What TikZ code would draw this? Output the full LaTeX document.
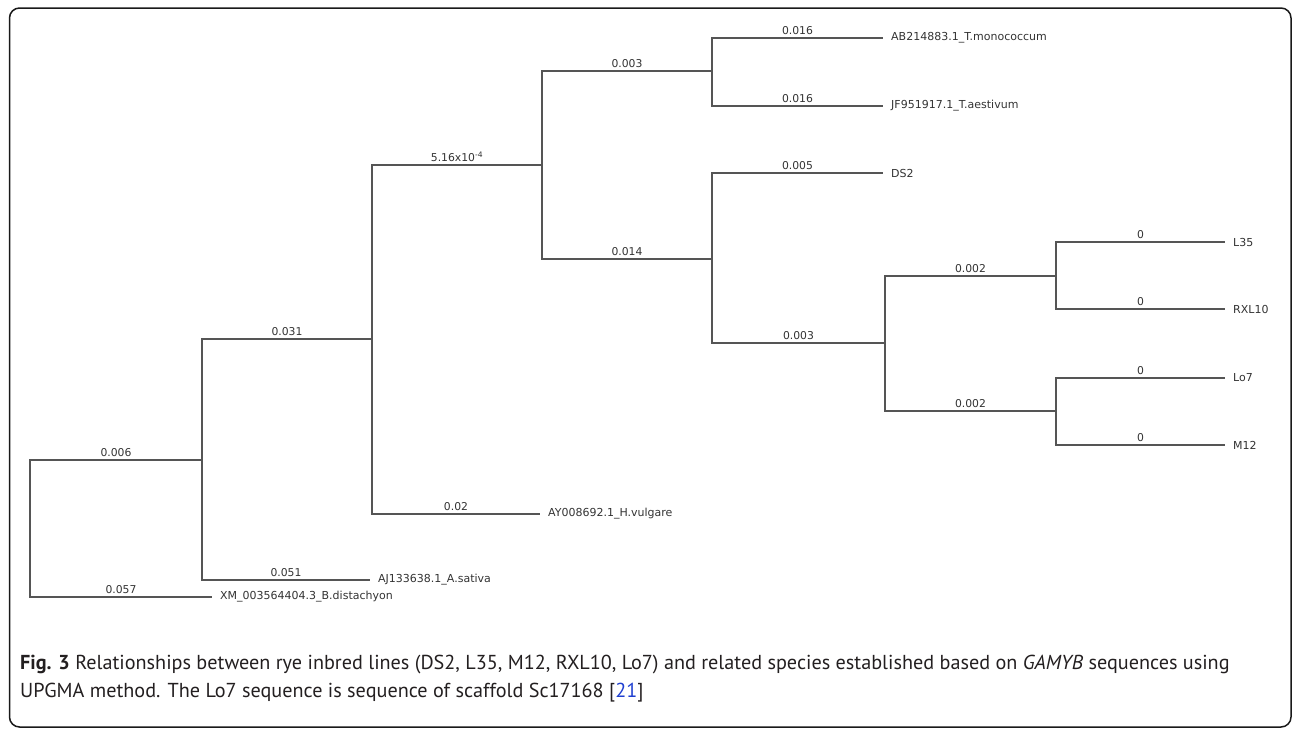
\documentclass[tikz,border=0pt]{standalone}
\usepackage{fontspec}
\setmainfont{DejaVu Sans}
\newfontfamily\capfont{PT Sans}
\definecolor{treeline}{HTML}{555555}
\definecolor{lbltext}{HTML}{333333}
\definecolor{captext}{HTML}{231F20}
\definecolor{reflink}{HTML}{1F3FD0}
\tikzset{
  branch/.style={draw=treeline, line width=1.1pt},
  lbl/.style={font=\fontsize{10.8}{12}\selectfont, text=lbltext, inner sep=0pt, anchor=south, yshift=3pt},
  leaf/.style={font=\fontsize{11}{13}\selectfont, text=lbltext, anchor=west, inner xsep=8pt, inner ysep=0pt},
  capline/.style={font=\capfont\fontsize{20.2}{24}\selectfont, text=captext, anchor=base west, inner sep=0pt}
}
\begin{document}
\begin{tikzpicture}[x=1pt, y=-1pt]
\useasboundingbox (0,0) rectangle (1292,728);
\draw[line width=1.5pt, rounded corners=10pt, draw=black!90] (9.5,8) rectangle (1291,727);

% internal nodes
\coordinate (R) at (30,528);
\coordinate (B) at (202,460);
\coordinate (C) at (372,339);
\coordinate (D) at (542,165);
\coordinate (E) at (712,71);
\coordinate (F) at (712,259);
\coordinate (G) at (885,343);
\coordinate (H) at (1056,276);
\coordinate (I) at (1056,411);

% leaves
\node[leaf] (XM) at (212,597) {XM\_003564404.3\_B.distachyon};
\node[leaf] (AJ) at (370,580) {AJ133638.1\_A.sativa};
\node[leaf] (AY) at (540,514) {AY008692.1\_H.vulgare};
\node[leaf] (AB) at (883,38) {AB214883.1\_T.monococcum};
\node[leaf] (JF) at (883,106) {JF951917.1\_T.aestivum};
\node[leaf] (DS2) at (883,173) {DS2};
\node[leaf] (L35) at (1225,242) {L35};
\node[leaf] (RXL) at (1225,309) {RXL10};
\node[leaf] (Lo7) at (1225,378) {Lo7};
\node[leaf] (M12) at (1225,445) {M12};

% branches
\draw[branch] (R) |- node[lbl, pos=0.75] (l1) {0.006} (B);
\draw[branch] (R) |- node[lbl, pos=0.75] (l2) {0.057} (XM.west);
\draw[branch] (B) |- node[lbl, pos=0.75] (l3) {0.031} (C);
\draw[branch] (B) |- node[lbl, pos=0.75] (l4) {0.051} (AJ.west);
\draw[branch] (C) |- node[lbl, pos=0.75] (l5) {5.16x10\textsuperscript{-4}} (D);
\draw[branch] (C) |- node[lbl, pos=0.75] (l6) {0.02} (AY.west);
\draw[branch] (D) |- node[lbl, pos=0.75] (l7) {0.003} (E);
\draw[branch] (D) |- node[lbl, pos=0.75] (l8) {0.014} (F);
\draw[branch] (E) |- node[lbl, pos=0.75] (l9) {0.016} (AB.west);
\draw[branch] (E) |- node[lbl, pos=0.75] (l10) {0.016} (JF.west);
\draw[branch] (F) |- node[lbl, pos=0.75] (l11) {0.005} (DS2.west);
\draw[branch] (F) |- node[lbl, pos=0.75] (l12) {0.003} (G);
\draw[branch] (G) |- node[lbl, pos=0.75] (l13) {0.002} (H);
\draw[branch] (G) |- node[lbl, pos=0.75] (l14) {0.002} (I);
\draw[branch] (H) |- node[lbl, pos=0.75] (l15) {0} (L35.west);
\draw[branch] (H) |- node[lbl, pos=0.75] (l16) {0} (RXL.west);
\draw[branch] (I) |- node[lbl, pos=0.75] (l17) {0} (Lo7.west);
\draw[branch] (I) |- node[lbl, pos=0.75] (l18) {0} (M12.west);

% caption
\node[capline] (cap1) at (20,669) {\textbf{Fig. 3} Relationships between rye inbred lines (DS2, L35, M12, RXL10, Lo7) and related species established based on \textit{GAMYB} sequences using};
\node[capline] (cap2) at (20,697) {UPGMA method. The Lo7 sequence is sequence of scaffold Sc17168 [\textcolor{reflink}{21}]};
\end{tikzpicture}
\end{document}
